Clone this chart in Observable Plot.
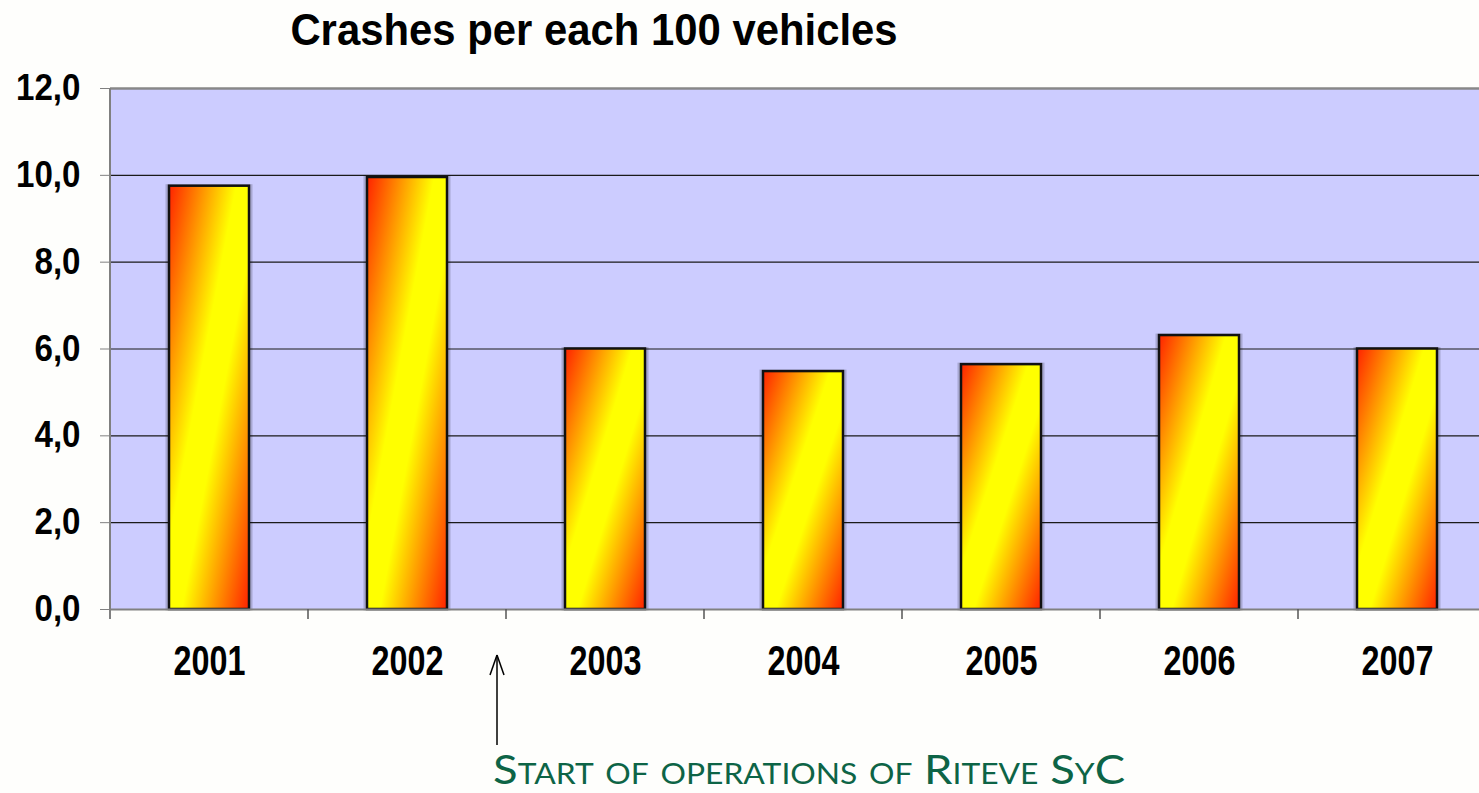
<!DOCTYPE html>
<html><head><meta charset="utf-8">
<script src="https://cdn.jsdelivr.net/npm/d3@7"></script>
<script src="https://cdn.jsdelivr.net/npm/@observablehq/plot@0.6"></script>
<style>
body{margin:0;background:#fefefc;overflow:hidden;}
#wrap{position:relative;width:1479px;height:793px;}
#title{position:absolute;left:0;width:1188px;top:7px;text-align:center;line-height:1;font-weight:bold;font-size:45px;font-family:"Liberation Sans",Arial,sans-serif;transform:scaleX(0.93);transform-origin:594px 0;}
#wrap svg{position:absolute;left:0;top:0;}
</style></head><body>
<div id="wrap"><div id="title">Crashes per each 100 vehicles</div></div>
<script>
const years = ["2001", "2002", "2003", "2004", "2005", "2006", "2007"];
const crashes = [9.75, 9.95, 6.0, 5.48, 5.64, 6.31, 6.0];
const yTicks = [0, 2, 4, 6, 8, 10, 12];
const gridValues = [2, 4, 6, 8, 10];
const annotationBefore = "2003";
const annotationText = "Start of operations of Riteve SyC";

const data = years.map((year, i) => ({year, value: crashes[i]}));
const ns = "http://www.w3.org/2000/svg";
const sans = "'Liberation Sans',Arial,sans-serif";

function gradientDefs() {
  const defs = document.createElementNS(ns, "defs");
  defs.innerHTML = `<linearGradient id="barGrad" x1="0" y1="0" x2="1" y2="1">
    <stop offset="0" stop-color="#ff2200"/>
    <stop offset="0.42" stop-color="#ffff00"/>
    <stop offset="0.58" stop-color="#ffff00"/>
    <stop offset="1" stop-color="#ff2200"/>
  </linearGradient>`;
  return defs;
}

const plot = Plot.plot({
  width: 1479,
  height: 793,
  marginLeft: 110,
  marginRight: 0,
  marginTop: 88,
  marginBottom: 184,
  x: {domain: years, range: [110, 1496], padding: 0, axis: null},
  y: {domain: [0, 12], axis: null},
  style: {background: "transparent", overflow: "visible"},
  marks: [
    gradientDefs,
    Plot.frame({fill: "#ccccff", stroke: null}),
    Plot.ruleY(gridValues, {stroke: "#1a1a1a", strokeWidth: 1.2}),
    Plot.ruleY([12], {stroke: "#888", strokeWidth: 2.5}),
    Plot.barY(data, {x: "year", y: "value", insetLeft: 57, insetRight: 57, fill: "none", stroke: "#000", strokeOpacity: 0.18, strokeWidth: 3}),
    Plot.barY(data, {x: "year", y: "value", insetLeft: 59, insetRight: 59, fill: "url(#barGrad)", stroke: "#111", strokeWidth: 2.5}),
    Plot.ruleY([0], {stroke: "#808080", strokeWidth: 2}),
    Plot.axisY({ticks: yTicks, tickSize: 10, tickPadding: 20, stroke: "#808080", fill: "#000",
      tickFormat: d => d3.format(".1f")(d).replace(".", ","),
      fontSize: 36, fontWeight: "bold", fontFamily: sans, label: null}),
    Plot.axisX({tickSize: 0, tickPadding: 36, fontSize: 42, fontWeight: "bold", fontFamily: sans, label: null})
  ]
});
document.getElementById("wrap").appendChild(plot);

// condense the axis labels (the reference uses a narrow face)
function condense(selector, factor) {
  plot.querySelectorAll(selector).forEach(t => {
    const w = t.getComputedTextLength();
    t.setAttribute("textLength", w * factor);
    t.setAttribute("lengthAdjust", "spacingAndGlyphs");
  });
}
condense('g[aria-label="y-axis tick label"] text', 0.92);
condense('g[aria-label="x-axis tick label"] text', 0.77);

// annotations drawn through the library's scales
const sx = plot.scale("x"), sy = plot.scale("y");
const y0 = sy.apply(0), yTop = sy.apply(12);
const left = sx.apply(years[0]);
const g = document.createElementNS(ns, "g");
function line(x1, y1, x2, y2, stroke, w) {
  const l = document.createElementNS(ns, "line");
  l.setAttribute("x1", x1); l.setAttribute("y1", y1); l.setAttribute("x2", x2); l.setAttribute("y2", y2);
  l.setAttribute("stroke", stroke); l.setAttribute("stroke-width", w);
  g.appendChild(l);
}
line(left, yTop, left, y0 + 10, "#808080", 2);
years.forEach(y => { const bx = sx.apply(y); if (bx > left) line(bx, y0, bx, y0 + 10, "#555", 1.5); });
// arrow
const ax = sx.apply(annotationBefore) - 9;
const tipY = y0 + 46, tailY = y0 + 136;
line(ax, tipY, ax, tailY, "#000", 1.5);
line(ax, tipY, ax - 7, tipY + 20, "#000", 1.5);
line(ax, tipY, ax + 7, tipY + 20, "#000", 1.5);
const t = document.createElementNS(ns, "text");
t.setAttribute("x", ax - 4);
t.setAttribute("y", y0 + 175);
t.setAttribute("text-anchor", "start");
t.setAttribute("fill", "#0d6446");
t.setAttribute("font-family", "Lato, 'Open Sans', sans-serif");
t.setAttribute("font-size", 40);
t.setAttribute("font-variant", "small-caps");
t.setAttribute("textLength", 632);
t.setAttribute("lengthAdjust", "spacingAndGlyphs");
t.textContent = annotationText;
g.appendChild(t);
plot.appendChild(g);
</script>
</body></html>
